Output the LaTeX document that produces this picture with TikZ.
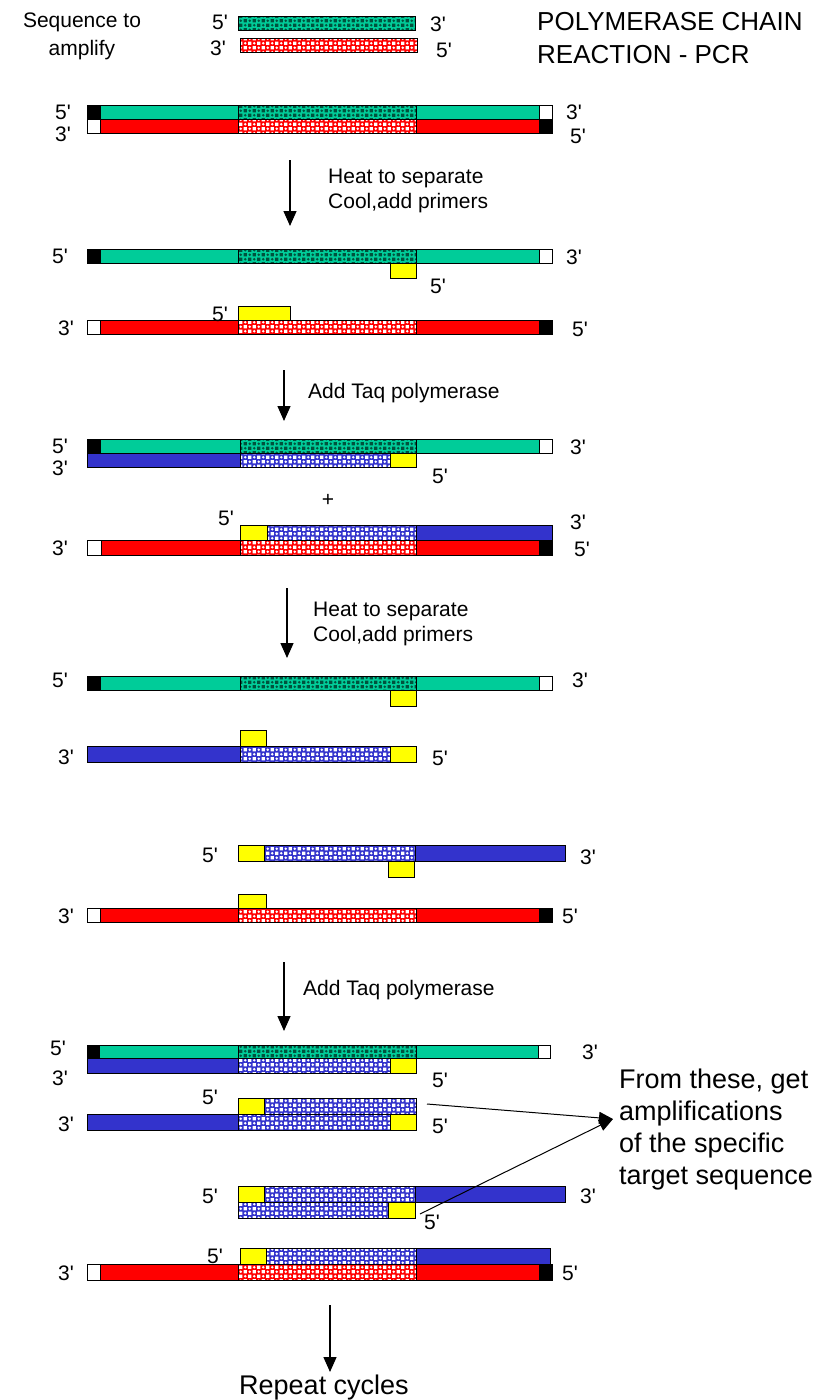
\documentclass[tikz,border=0pt]{standalone}
\usepackage{fontspec}
\newfontfamily\dnafont{Liberation Sans}
\usepackage{xcolor}
\usepackage{tikz}
\usetikzlibrary{arrows.meta,patterns}

\definecolor{dnagreen}{RGB}{0,204,153}
\definecolor{dnared}{RGB}{255,0,0}
\definecolor{dnablue}{RGB}{51,51,204}
\definecolor{dnayellow}{RGB}{255,255,0}

\pgfdeclarepatternformonly{dnaweave}{\pgfqpoint{-1pt}{-1pt}}{\pgfqpoint{10pt}{10pt}}{\pgfqpoint{9pt}{9pt}}{%
  \pgfpathrectangle{\pgfqpoint{0.6pt}{0.6pt}}{\pgfqpoint{3.2pt}{3.2pt}}%
  \pgfpathrectangle{\pgfqpoint{5.1pt}{5.1pt}}{\pgfqpoint{3.2pt}{3.2pt}}%
  \pgfpathcircle{\pgfqpoint{6.75pt}{2.25pt}}{1.3pt}%
  \pgfpathcircle{\pgfqpoint{2.25pt}{6.75pt}}{1.3pt}%
  \pgfusepath{fill}}

\begin{document}
\begin{tikzpicture}[x=1pt, y=-1pt,
    gs/.style={fill=dnagreen, draw=black, line width=1pt},
    rs/.style={fill=dnared, draw=black, line width=1pt},
    bs/.style={fill=dnablue, draw=black, line width=1pt},
    gp/.style={preaction={fill=dnagreen}, pattern=dnaweave, pattern color=dnagreen!40!black, draw=black, line width=1pt},
    rp/.style={preaction={fill=dnared}, pattern=dnaweave, pattern color=white, draw=black, line width=1pt},
    bp/.style={preaction={fill=dnablue}, pattern=dnaweave, pattern color=white, draw=black, line width=1pt},
    prim/.style={fill=dnayellow, draw=black, line width=1pt},
    capb/.style={fill=black, draw=black, line width=1pt},
    capw/.style={fill=white, draw=black, line width=1pt},
    lbl/.style={font=\dnafont\fontsize{21}{25}\selectfont, inner sep=0pt, anchor=west},
    big/.style={font=\dnafont\fontsize{27}{32}\selectfont, inner sep=0pt, align=left},
    downarr/.style={-{Triangle[width=13pt, length=15pt]}, line width=1.3pt},
    sidearr/.style={-{Triangle[width=12pt, length=14pt]}, line width=1pt}]

  \useasboundingbox (0,0) rectangle (821,1400);

  % title and the sequence to amplify
  \node[lbl, anchor=center, align=center, font=\dnafont\fontsize{21}{28}\selectfont] (seqtxt) at (82,36) {Sequence to\\amplify};
  \node[big, anchor=west, font=\dnafont\fontsize{26}{33}\selectfont] (title) at (537,38) {POLYMERASE CHAIN\\REACTION - PCR};
  \draw[gp] (238,16) rectangle (415,30);
  \draw[rp] (240,38) rectangle (417,52);
  \node[lbl] (m1) at (212,22) {5'};
  \node[lbl] (m2) at (430,24) {3'};
  \node[lbl] (m3) at (210,48) {3'};
  \node[lbl] (m4) at (436,50) {5'};

  % starting double strand
  \draw[gs] (87,105) rectangle (552,119);
  \draw[capb] (87,105) rectangle (100,119);
  \draw[capw] (539,105) rectangle (552,119);
  \draw[gp] (238,105) rectangle (416,119);
  \draw[rs] (87,119) rectangle (552,133);
  \draw[capw] (87,119) rectangle (100,133);
  \draw[capb] (539,119) rectangle (552,133);
  \draw[rp] (238,119) rectangle (416,133);
  \node[lbl] (r0a) at (55,112) {5'};
  \node[lbl] (r0b) at (55,134) {3'};
  \node[lbl] (r0c) at (566,112) {3'};
  \node[lbl] (r0d) at (570,136) {5'};

  % step 1
  \coordinate (s1a) at (290,160);
  \coordinate (s1b) at (290,226);
  \draw[downarr] (s1a) -- (s1b);
  \node[lbl, align=left] (heat1) at (328,191) {Heat to separate\\Cool,add primers};

  \draw[gs] (87,249) rectangle (552,263);
  \draw[capb] (87,249) rectangle (100,263);
  \draw[capw] (539,249) rectangle (552,263);
  \draw[gp] (238,249) rectangle (416,263);
  \draw[prim] (390,263) rectangle (416,278);
  \node[lbl] (r1a) at (52,256) {5'};
  \node[lbl] (r1b) at (566,257) {3'};
  \node[lbl] (r1c) at (430,286) {5'};

  \draw[rs] (87,320) rectangle (552,334);
  \draw[capw] (87,320) rectangle (100,334);
  \draw[capb] (539,320) rectangle (552,334);
  \draw[rp] (238,320) rectangle (416,334);
  \draw[prim] (238,306) rectangle (290,320);
  \node[lbl] (r1d) at (212,314) {5'};
  \node[lbl] (r1e) at (58,328) {3'};
  \node[lbl] (r1f) at (572,329) {5'};

  % step 2
  \coordinate (s2a) at (284,370);
  \coordinate (s2b) at (284,421);
  \draw[downarr] (s2a) -- (s2b);
  \node[lbl] (taq1) at (308,393) {Add Taq polymerase};

  \draw[gs] (87,439) rectangle (552,453);
  \draw[capb] (87,439) rectangle (100,453);
  \draw[capw] (539,439) rectangle (552,453);
  \draw[gp] (240,439) rectangle (416,453);
  \draw[bs] (87,453) rectangle (240,467);
  \draw[bp] (240,453) rectangle (390,467);
  \draw[prim] (390,453) rectangle (416,467);
  \node[lbl] (r2a) at (52,446) {5'};
  \node[lbl] (r2b) at (52,468) {3'};
  \node[lbl] (r2c) at (570,447) {3'};
  \node[lbl] (r2d) at (432,476) {5'};
  \node[lbl, anchor=center] (plus) at (328,500) {+};

  \draw[prim] (240,525) rectangle (267,540);
  \draw[bp] (267,525) rectangle (416,540);
  \draw[bs] (416,525) rectangle (552,540);
  \draw[rs] (87,540) rectangle (552,555);
  \draw[capw] (87,540) rectangle (101,555);
  \draw[capb] (539,540) rectangle (552,555);
  \draw[rp] (240,540) rectangle (416,555);
  \node[lbl] (r2e) at (218,518) {5'};
  \node[lbl] (r2f) at (570,522) {3'};
  \node[lbl] (r2g) at (52,548) {3'};
  \node[lbl] (r2h) at (574,549) {5'};

  % step 3
  \coordinate (s3a) at (287,588);
  \coordinate (s3b) at (287,658);
  \draw[downarr] (s3a) -- (s3b);
  \node[lbl, align=left] (heat2) at (313,624) {Heat to separate\\Cool,add primers};

  \draw[gs] (87,676) rectangle (552,690);
  \draw[capb] (87,676) rectangle (100,690);
  \draw[capw] (539,676) rectangle (552,690);
  \draw[gp] (240,676) rectangle (416,690);
  \draw[prim] (390,690) rectangle (416,706);
  \node[lbl] (r3a) at (52,680) {5'};
  \node[lbl] (r3b) at (572,680) {3'};

  \draw[bs] (87,746) rectangle (240,762);
  \draw[bp] (240,746) rectangle (390,762);
  \draw[prim] (390,746) rectangle (416,762);
  \draw[prim] (240,730) rectangle (266,746);
  \node[lbl] (r3c) at (58,757) {3'};
  \node[lbl] (r3d) at (432,758) {5'};

  \draw[prim] (238,845) rectangle (264,861);
  \draw[bp] (264,845) rectangle (415,861);
  \draw[bs] (415,845) rectangle (565,861);
  \draw[prim] (388,861) rectangle (414,877);
  \node[lbl] (r4a) at (202,855) {5'};
  \node[lbl] (r4b) at (580,857) {3'};

  \draw[rs] (87,908) rectangle (552,922);
  \draw[capw] (87,908) rectangle (100,922);
  \draw[capb] (539,908) rectangle (552,922);
  \draw[rp] (238,908) rectangle (416,922);
  \draw[prim] (238,894) rectangle (266,908);
  \node[lbl] (r4c) at (58,916) {3'};
  \node[lbl] (r4d) at (562,916) {5'};

  % step 4
  \coordinate (s4a) at (284,962);
  \coordinate (s4b) at (284,1031);
  \draw[downarr] (s4a) -- (s4b);
  \node[lbl] (taq2) at (303,990) {Add Taq polymerase};

  \draw[gs] (87,1045) rectangle (550,1058);
  \draw[capb] (87,1045) rectangle (99,1058);
  \draw[capw] (538,1045) rectangle (550,1058);
  \draw[gp] (238,1045) rectangle (416,1058);
  \draw[bs] (87,1058) rectangle (238,1073);
  \draw[bp] (238,1058) rectangle (390,1073);
  \draw[prim] (390,1058) rectangle (416,1073);
  \node[lbl] (r5a) at (50,1048) {5'};
  \node[lbl] (r5b) at (52,1078) {3'};
  \node[lbl] (r5c) at (582,1052) {3'};
  \node[lbl] (r5d) at (432,1080) {5'};

  \draw[prim] (238,1098) rectangle (264,1114);
  \draw[bp] (264,1098) rectangle (416,1114);
  \draw[bs] (87,1114) rectangle (238,1130);
  \draw[bp] (238,1114) rectangle (390,1130);
  \draw[prim] (390,1114) rectangle (416,1130);
  \node[lbl] (r5e) at (202,1097) {5'};
  \node[lbl] (r5f) at (58,1124) {3'};
  \node[lbl] (r5g) at (432,1126) {5'};

  \draw[prim] (238,1186) rectangle (264,1202);
  \draw[bp] (264,1186) rectangle (415,1202);
  \draw[bs] (415,1186) rectangle (565,1202);
  \draw[bp] (238,1202) rectangle (388,1218);
  \draw[prim] (388,1202) rectangle (415,1218);
  \node[lbl] (r5h) at (202,1196) {5'};
  \node[lbl] (r5i) at (580,1196) {3'};
  \node[lbl] (r5j) at (424,1222) {5'};

  \draw[prim] (240,1248) rectangle (266,1264);
  \draw[bp] (266,1248) rectangle (416,1264);
  \draw[bs] (416,1248) rectangle (550,1264);
  \draw[rs] (87,1264) rectangle (552,1280);
  \draw[capw] (87,1264) rectangle (100,1280);
  \draw[capb] (539,1264) rectangle (552,1280);
  \draw[rp] (238,1264) rectangle (416,1280);
  \node[lbl] (r5k) at (207,1256) {5'};
  \node[lbl] (r5l) at (58,1273) {3'};
  \node[lbl] (r5m) at (562,1273) {5'};

  % the two short products
  \node[big, anchor=west] (from) at (619,1130) {From these, get\\amplifications\\of the specific\\target sequence};
  \coordinate (fromtip) at (613,1119);
  \coordinate (prodA) at (427,1104);
  \coordinate (prodB) at (420,1214);
  \draw[sidearr] (prodA) -- (fromtip);
  \draw[sidearr] (prodB) -- (fromtip);

  % step 5
  \coordinate (s5a) at (330,1305);
  \coordinate (s5b) at (330,1372);
  \draw[downarr] (s5a) -- (s5b);
  \node[big, anchor=center] (repeat) at (324,1388) {Repeat cycles};
\end{tikzpicture}
\end{document}
